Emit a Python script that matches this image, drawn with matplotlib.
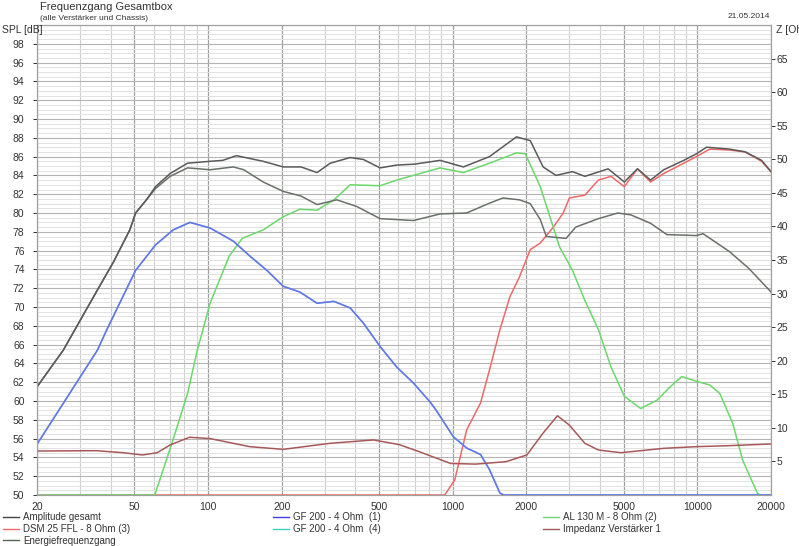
import matplotlib.pyplot as plt
from matplotlib.lines import Line2D
from matplotlib.ticker import FixedLocator, NullFormatter
import numpy as np

plt.rcParams['font.family'] = ['Liberation Sans', 'DejaVu Sans']

# Frequency response data (Hz, dB)
amp_f = [20, 25.6, 35.3, 41.1, 47.9, 50.6, 56, 61, 70, 82.5, 102, 115, 130.5, 168, 203, 240, 279,
         316, 381, 431, 505, 591, 700, 888, 1106, 1414, 1823, 2075, 2342, 2645, 3088, 3470,
         4320, 5030, 5690, 6440, 7290, 8800, 9920, 10900, 13520, 15700, 18300, 20000]
amp_db = [61.5, 65.4, 71.8, 74.8, 78.2, 80.0, 81.4, 82.8, 84.2, 85.3, 85.5, 85.6, 86.1, 85.5, 84.9,
          84.9, 84.3, 85.3, 85.9, 85.7, 84.8, 85.1, 85.2, 85.6, 84.9, 86.0, 88.1, 87.7, 84.9, 84.0,
          84.4, 83.9, 84.7, 83.3, 84.7, 83.5, 84.6, 85.6, 86.3, 87.0, 86.8, 86.5, 85.6, 84.4]

energy_f = [20, 25.6, 35.3, 41.1, 47.9, 50.6, 56, 61, 70, 82.5, 102, 127, 140, 168, 203, 240, 279,
            336, 405, 505, 692, 888, 1140, 1400, 1604, 1875, 2075, 2280, 2415, 2906, 3184, 3940,
            4730, 5350, 6440, 7510, 9920, 10550, 13520, 16240, 20000]
energy_db = [61.5, 65.4, 71.8, 74.8, 78.2, 80.0, 81.4, 82.6, 83.9, 84.8, 84.6, 84.9, 84.6, 83.3,
             82.3, 81.8, 80.9, 81.4, 80.7, 79.4, 79.2, 79.9, 80.0, 81.0, 81.6, 81.4, 81.0, 79.3,
             77.5, 77.3, 78.5, 79.4, 80.0, 79.8, 78.9, 77.7, 77.6, 77.8, 75.9, 74.1, 71.6]

gf200_f = [20, 35.3, 38.6, 50.6, 61, 72, 84.4, 102, 127, 148.5, 174, 203, 237, 279, 327, 381, 431,
           505, 591, 692, 808, 857, 1006, 1140, 1300, 1414, 1560, 1620, 20000]
gf200_db = [55.4, 65.4, 67.6, 73.9, 76.6, 78.2, 79.0, 78.4, 77.0, 75.4, 73.9, 72.2, 71.6, 70.4,
            70.6, 69.9, 68.3, 65.8, 63.6, 61.9, 59.9, 59.0, 56.2, 55.0, 54.3, 52.7, 50.2, 50.0, 50.0]

al130_f = [20, 60.6, 72, 82.5, 90.4, 102, 122, 138, 168, 203, 237, 279, 327, 381, 505, 591, 808,
           888, 1106, 1414, 1823, 1980, 2280, 2733, 3088, 3470, 3940, 4440, 5030, 5870, 6850, 7740,
           8640, 9920, 11240, 12350, 13960, 15320, 17600, 18000, 20000]
al130_db = [50.0, 50.0, 55.9, 60.8, 65.4, 70.4, 75.4, 77.3, 78.2, 79.6, 80.4, 80.3, 81.4, 83.0,
            82.9, 83.5, 84.5, 84.8, 84.3, 85.3, 86.4, 86.3, 82.8, 76.4, 73.9, 70.7, 67.6, 63.6,
            60.5, 59.2, 60.1, 61.5, 62.6, 62.1, 61.7, 60.8, 57.6, 53.7, 50.2, 50.0, 50.0]

dsm25_f = [20, 928, 1020, 1140, 1300, 1414, 1560, 1714, 1875, 2075, 2280, 2580, 2830, 3000, 3470,
           3940, 4440, 5030, 5690, 6440, 7290, 8800, 9920, 11240, 13520, 15700, 18300, 20000]
dsm25_db = [50.0, 50.0, 51.6, 56.9, 59.8, 63.3, 67.6, 71.1, 73.2, 76.1, 76.8, 78.5, 80.0, 81.6,
            81.9, 83.5, 83.9, 82.8, 84.7, 83.3, 84.2, 85.3, 86.0, 86.8, 86.7, 86.5, 85.5, 84.4]

# Impedance (Ohm, right axis)
imp_f = [20, 35, 45, 54, 62, 70, 84, 102, 148, 203, 316, 475, 605, 730, 980, 1240, 1650, 2010,
         2340, 2680, 3000, 3470, 3940, 4870, 7290, 9920, 13520, 20000]
imp_z = [6.55, 6.6, 6.3, 5.96, 6.3, 7.45, 8.6, 8.4, 7.2, 6.8, 7.7, 8.2, 7.5, 6.45, 4.7, 4.6, 4.96,
         5.96, 9.2, 11.8, 10.4, 7.7, 6.7, 6.3, 6.95, 7.2, 7.35, 7.6]

x_ticks = [20, 50, 100, 200, 500, 1000, 2000, 5000, 10000, 20000]

c_amp = '#5a5a5a'
c_energy = '#6a706a'
c_blue = '#6f6ff0'
c_cyan = '#40d0c0'
c_green = '#6ad86a'
c_red = '#f06868'
c_imp = '#a85858'
c_text = '#333333'

fig = plt.figure(figsize=(7.99, 5.46), dpi=100)
ax = fig.add_axes([37 / 799, 1 - 495 / 546, 734 / 799, 470 / 546])
ax.set_xscale('log')
ax.set_xlim(20, 20000)
ax.set_ylim(50, 100)

# grid
minor_x = [f * m for f in [10, 100, 1000, 10000] for m in range(2, 10)]
minor_x = [f for f in minor_x if 20 < f < 20000 and f not in x_ticks]
for f in minor_x:
    ax.axvline(f, color='#cfcfcf', lw=0.8, zorder=0)
for f in x_ticks:
    ax.axvline(f, color='#a0a0a0', lw=0.9, zorder=0)
for v in np.arange(50, 100.01, 0.5):
    ax.axhline(v, color='#e2e2e2', lw=0.7, zorder=0)
for v in range(50, 101, 2):
    ax.axhline(v, color='#b4b4b4', lw=0.8, zorder=0)

lw = 1.1
ax.plot(dsm25_f, dsm25_db, color=c_red, lw=lw, zorder=2)
ax.plot(al130_f, al130_db, color=c_green, lw=lw, zorder=3)
ax.plot(gf200_f, gf200_db, color=c_cyan, lw=lw, zorder=3)
ax.plot(gf200_f, gf200_db, color=c_blue, lw=lw, zorder=4)
ax.plot(energy_f, energy_db, color=c_energy, lw=lw, zorder=5)
ax.plot(amp_f, amp_db, color=c_amp, lw=lw, zorder=6)

ax2 = ax.twinx()
ax2.set_ylim(0, 70)
ax2.plot(imp_f, imp_z, color=c_imp, lw=lw)

ax.xaxis.set_major_locator(FixedLocator(x_ticks))
ax.xaxis.set_minor_formatter(NullFormatter())
ax.xaxis.set_minor_locator(FixedLocator([]))
ax.set_xticklabels([str(t) for t in x_ticks])
ax.tick_params(axis='x', length=0, pad=5, labelsize=7.5, colors=c_text)
ax.set_yticks(range(50, 100, 2))
ax.tick_params(axis='y', length=3, width=0.7, labelsize=7.5, colors=c_text, pad=6)
ax2.set_yticks(range(5, 70, 5))
ax2.tick_params(axis='y', length=3, width=0.7, labelsize=7.5, colors=c_text, pad=1)

for a in (ax, ax2):
    for s in a.spines.values():
        s.set_color('#a0a0a0')
        s.set_linewidth(0.8)

fig.text(40 / 799, 1 - 7 / 546, 'Frequenzgang Gesamtbox', fontsize=8, color=c_text, va='center')
fig.text(40 / 799, 1 - 18 / 546, '(alle Verstärker und Chassis)', fontsize=6, color=c_text, va='center')
fig.text(770 / 799, 1 - 16 / 546, '21.05.2014', fontsize=6, color=c_text, va='center', ha='right')
fig.text(2 / 799, 1 - 30 / 546, 'SPL [dB]', fontsize=7.5, color=c_text, va='center', ha='left')
fig.text(776 / 799, 1 - 30 / 546, 'Z [Ohm]', fontsize=7.5, color=c_text, va='center', ha='left')

# legend in three columns below the plot
legend_cols = [
    (3, [('#444444', 'Amplitude gesamt'), (c_red, 'DSM 25 FFL - 8 Ohm (3)'),
         ('#556655', 'Energiefrequenzgang')]),
    (273, [('#4040e0', 'GF 200 - 4 Ohm  (1)'), (c_cyan, 'GF 200 - 4 Ohm  (4)')]),
    (543, [(c_green, 'AL 130 M - 8 Ohm (2)'), (c_imp, 'Impedanz Verstärker 1')]),
]
for x0, entries in legend_cols:
    lg = fig.legend(handles=[Line2D([], [], color=c, lw=1) for c, _ in entries],
                    labels=[t for _, t in entries],
                    loc='upper left', bbox_to_anchor=(x0 / 799, 1 - 512 / 546), frameon=False,
                    fontsize=7, handlelength=1.6, handletextpad=0.5, labelspacing=0.2,
                    borderaxespad=0, borderpad=0)
    for t in lg.get_texts():
        t.set_color(c_text)

fig.savefig('out.png', dpi=100)
